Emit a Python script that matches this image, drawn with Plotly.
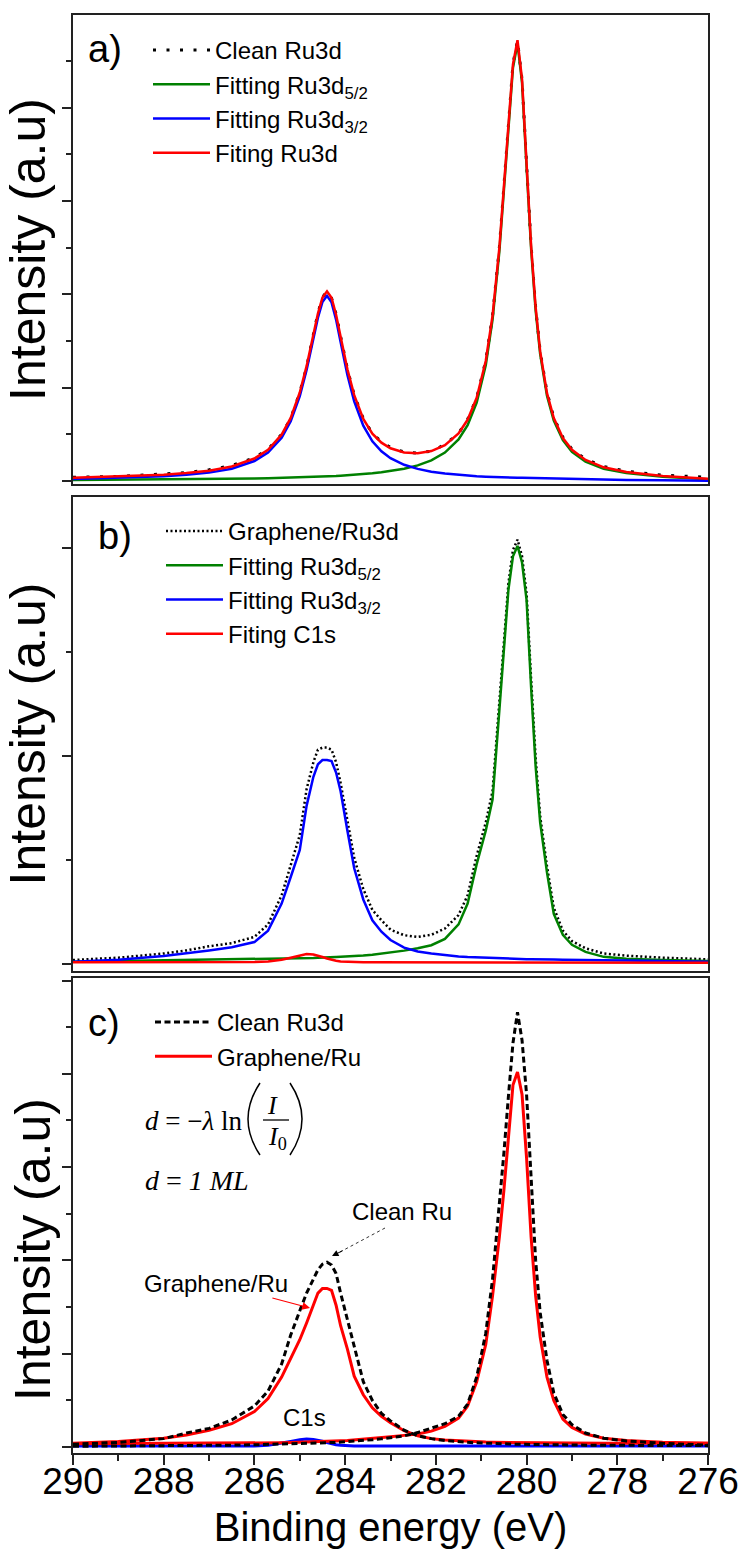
import plotly.graph_objects as go

# ---------------- data ----------------
energy = [290.0, 289.0, 288.0, 287.5, 287.0, 286.5, 286.0, 285.7, 285.4, 285.2,
          285.0, 284.85, 284.7, 284.6, 284.5, 284.4, 284.3, 284.2, 284.1, 283.95,
          283.8, 283.6, 283.4, 283.2, 283.0, 282.7, 282.4, 282.1, 281.8, 281.5,
          281.3, 281.1, 280.9, 280.75, 280.6, 280.5, 280.4, 280.3, 280.2, 280.1,
          280.0, 279.9, 279.8, 279.7, 279.55, 279.4, 279.2, 279.0, 278.7, 278.3,
          277.8, 277.0, 276.0]

# panel a
a_clean = [.04, .05, .075, .09, .12, .165, .25, .34, .50, .67,
           .95, 1.22, 1.57, 1.80, 1.97, 2.03, 1.96, 1.79, 1.55, 1.20,
           .92, .67, .51, .42, .36, .31, .30, .32, .39, .51,
           .66, .89, 1.29, 1.77, 2.50, 3.14, 3.85, 4.47, 4.72, 4.30,
           3.40, 2.52, 1.86, 1.39, .95, .68, .47, .34, .235, .155,
           .105, .062, .04]
a_fit52 = [.012, .014, .017, .019, .021, .024, .027, .030, .033, .036,
           .039, .041, .043, .045, .047, .048, .050, .053, .057, .061,
           .066, .073, .082, .093, .106, .132, .168, .221, .305, .445,
           .598, .84, 1.24, 1.73, 2.46, 3.10, 3.82, 4.43, 4.69, 4.27,
           3.37, 2.49, 1.83, 1.36, .915, .649, .438, .314, .207, .132,
           .085, .045, .02]
a_fit32 = [.022, .033, .05, .066, .09, .132, .214, .305, .464, .64,
           .91, 1.19, 1.53, 1.75, 1.92, 1.985, 1.915, 1.73, 1.49, 1.137,
           .854, .593, .426, .318, .245, .174, .13, .10, .08, .066,
           .058, .052, .047, .043, .04, .038, .037, .036, .035, .034,
           .033, .032, .031, .029, .027, .025, .023, .021, .018, .015,
           .012, .008, .004]
a_fit = [.034, .047, .067, .085, .111, .156, .241, .335, .497, .676,
         .949, 1.231, 1.573, 1.795, 1.967, 2.033, 1.965, 1.783, 1.547, 1.198,
         .92, .666, .508, .411, .351, .306, .298, .321, .385, .511,
         .656, .892, 1.287, 1.773, 2.50, 3.138, 3.857, 4.466, 4.725, 4.304,
         3.403, 2.522, 1.861, 1.389, .942, .674, .461, .335, .225, .147,
         .097, .053, .024]

# panel b
b_data = [.019, .03, .05, .065, .085, .10, .13, .19, .33, .47,
          .62, .84, .97, 1.03, 1.04, 1.04, 1.03, .97, .87, .69,
          .51, .36, .26, .21, .165, .138, .13, .14, .17, .235,
          .33, .52, .68, .83, 1.26, 1.56, 1.83, 1.99, 2.04, 1.96,
          1.78, 1.37, .99, .71, .47, .27, .16, .11, .075, .05,
          .04, .03, .022]
b_fit52 = [.01, .013, .016, .018, .019, .021, .023, .024, .025, .026,
           .027, .028, .029, .03, .03, .031, .032, .033, .034, .035,
           .037, .04, .044, .049, .055, .064, .075, .09, .12, .19,
           .29, .48, .64, .79, 1.22, 1.52, 1.80, 1.96, 2.01, 1.93,
           1.75, 1.33, .95, .68, .44, .24, .14, .092, .058, .034,
           .025, .019, .014]
b_fit32 = [.01, .02, .038, .05, .065, .08, .105, .16, .29, .418,
           .548, .76, .90, .96, .98, .98, .975, .92, .83, .64,
           .46, .31, .21, .155, .115, .078, .06, .05, .042, .036,
           .033, .031, .029, .028, .027, .026, .025, .025, .024, .024,
           .023, .023, .022, .022, .021, .021, .02, .02, .019, .018,
           .016, .013, .01]
b_c1s = [.008, .008, .008, .008, .008, .008, .009, .012, .02, .03,
         .042, .048, .045, .04, .033, .026, .02, .015, .012, .01,
         .009, .008, .008, .008, .008, .008, .008, .008, .008, .008,
         .008, .008, .008, .008, .008, .007, .007, .007, .007, .007,
         .007, .007, .007, .007, .007, .007, .007, .006, .006, .006,
         .006, .006, .006]

# panel c
c_clean32 = [.03, .05, .09, .15, .20, .29, .44, .60, .89, 1.20,
             1.46, 1.65, 1.80, 1.90, 1.96, 1.98, 1.95, 1.86, 1.65, 1.36,
             1.06, .70, .50, .36, .28, .18, .12, .09, .07, .055,
             .05, .045, .04, .037, .035, .033, .032, .031, .03, .029,
             .028, .027, .026, .025, .024, .023, .022, .021, .02, .019,
             .018, .016, .015]
c_clean52 = [.008, .01, .013, .015, .017, .02, .024, .027, .03, .033,
             .036, .038, .04, .042, .044, .046, .048, .05, .053, .057,
             .062, .07, .078, .088, .10, .12, .155, .20, .25, .33,
             .46, .75, 1.22, 1.80, 2.60, 3.15, 3.76, 4.33, 4.66, 4.36,
             3.78, 2.82, 2.0, 1.44, .93, .58, .35, .24, .15, .095,
             .065, .04, .02]
c_gr32 = [.04, .06, .095, .13, .18, .25, .38, .52, .75, .95,
          1.15, 1.33, 1.52, 1.65, 1.70, 1.70, 1.68, 1.52, 1.30, 1.05,
          .76, .56, .42, .33, .26, .175, .12, .09, .075, .065,
          .06, .056, .053, .051, .05, .049, .048, .047, .046, .046,
          .045, .045, .044, .044, .043, .043, .042, .042, .041, .041,
          .04, .04, .04]
c_gr52 = [.035, .036, .037, .038, .039, .04, .042, .044, .046, .048,
          .05, .052, .054, .056, .058, .06, .062, .064, .067, .071,
          .076, .083, .092, .10, .11, .125, .14, .17, .22, .31,
          .44, .70, 1.10, 1.62, 2.25, 2.75, 3.35, 3.88, 4.02, 3.78,
          3.10, 2.25, 1.62, 1.18, .75, .50, .30, .21, .14, .095,
          .07, .05, .04]
c_c1s = [.01, .01, .01, .01, .01, .01, .012, .02, .04, .06,
         .078, .086, .082, .074, .062, .048, .035, .025, .018, .013,
         .011, .01, .01, .01, .01, .01, .01, .01, .01, .01,
         .01, .01, .01, .01, .01, .01, .01, .01, .01, .01,
         .01, .01, .01, .01, .01, .01, .01, .01, .01, .01,
         .01, .01, .01]

x_ticks = [290, 288, 286, 284, 282, 280, 278, 276]

# ---------------- styling helpers ----------------
W, H = 743, 1554
ML, MR, MT, MB = 73, 35, 15, 101
PW, PH = W - ML - MR, H - MT - MB
FONT = "Arial, Liberation Sans, sans-serif"
SERIF = "Times New Roman, Liberation Serif, serif"
GREEN, BLUE, RED = "#008000", "#0000FF", "#FF0000"


def px(x):
    return (x - ML) / PW


def py(y):
    return (H - MB - y) / PH


fig = go.Figure()

# panel a
fig.add_trace(go.Scatter(x=energy, y=a_clean, name="Clean Ru3d", xaxis="x", yaxis="y",
                         mode="lines", line=dict(color="black", width=3, dash="3px,10.5px"),
                         legend="legend"))
fig.add_trace(go.Scatter(x=energy, y=a_fit52, name="Fitting Ru3d<sub>5/2</sub>", xaxis="x", yaxis="y",
                         mode="lines", line=dict(color=GREEN, width=2.5), legend="legend"))
fig.add_trace(go.Scatter(x=energy, y=a_fit32, name="Fitting Ru3d<sub>3/2</sub>", xaxis="x", yaxis="y",
                         mode="lines", line=dict(color=BLUE, width=2.5), legend="legend"))
fig.add_trace(go.Scatter(x=energy, y=a_fit, name="Fiting Ru3d", xaxis="x", yaxis="y",
                         mode="lines", line=dict(color=RED, width=2.5), legend="legend"))

# panel b
fig.add_trace(go.Scatter(x=energy, y=b_data, name="Graphene/Ru3d", xaxis="x2", yaxis="y2",
                         mode="lines", line=dict(color="black", width=2.5, dash="2px,2.5px"),
                         legend="legend2"))
fig.add_trace(go.Scatter(x=energy, y=b_fit52, name="Fitting Ru3d<sub>5/2</sub>", xaxis="x2", yaxis="y2",
                         mode="lines", line=dict(color=GREEN, width=2.5), legend="legend2"))
fig.add_trace(go.Scatter(x=energy, y=b_fit32, name="Fitting Ru3d<sub>3/2</sub>", xaxis="x2", yaxis="y2",
                         mode="lines", line=dict(color=BLUE, width=2.5), legend="legend2"))
fig.add_trace(go.Scatter(x=energy, y=b_c1s, name="Fiting C1s", xaxis="x2", yaxis="y2",
                         mode="lines", line=dict(color=RED, width=2.5), legend="legend2"))

# panel c
fig.add_trace(go.Scatter(x=energy, y=c_c1s, name="C1s", xaxis="x3", yaxis="y3", showlegend=False,
                         mode="lines", line=dict(color=BLUE, width=3)))
fig.add_trace(go.Scatter(x=energy, y=c_gr32, name="Graphene/Ru", xaxis="x3", yaxis="y3",
                         legendgroup="gr", legendrank=2, legend="legend3",
                         mode="lines", line=dict(color=RED, width=3)))
fig.add_trace(go.Scatter(x=energy, y=c_gr52, name="Graphene/Ru", xaxis="x3", yaxis="y3",
                         legendgroup="gr", showlegend=False, legend="legend3",
                         mode="lines", line=dict(color=RED, width=3)))
fig.add_trace(go.Scatter(x=energy, y=c_clean32, name="Clean Ru3d", xaxis="x3", yaxis="y3",
                         legendgroup="cl", legendrank=1, legend="legend3",
                         mode="lines", line=dict(color="black", width=3, dash="6px,3.5px")))
fig.add_trace(go.Scatter(x=energy, y=c_clean52, name="Clean Ru3d", xaxis="x3", yaxis="y3",
                         legendgroup="cl", showlegend=False, legend="legend3",
                         mode="lines", line=dict(color="black", width=3, dash="6px,3.5px")))

AX = dict(showline=True, mirror=True, linecolor="#222", linewidth=2, showgrid=False, zeroline=False)

xcommon = dict(AX, range=[290, 276], autorange=False)
ycommon = dict(AX, showticklabels=False, ticks="outside", ticklen=9, tickwidth=2, tickcolor="#222",
               dtick=1, tick0=0,
               minor=dict(ticks="outside", ticklen=5, tickwidth=2, tickcolor="#222", dtick=0.5, tick0=0))
ytitle = dict(text="Intensity (a.u)", font=dict(size=50, family=FONT, color="black"), standoff=4)

legend_common = dict(xanchor="left", yanchor="top", bgcolor="rgba(0,0,0,0)", borderwidth=0,
                     font=dict(size=24, family=FONT, color="black"), tracegroupgap=0,
                     traceorder="normal", itemwidth=57)

fig.update_layout(
    width=W, height=H,
    margin=dict(l=ML, r=MR, t=MT, b=MB, autoexpand=False),
    paper_bgcolor="white", plot_bgcolor="white",
    font=dict(family=FONT, color="black"),
    xaxis=dict(xcommon, anchor="y", domain=[0, 1], showticklabels=False, ticks=""),
    yaxis=dict(ycommon, anchor="x", domain=[py(484), 1.0], range=[-0.032, 4.995], title=ytitle),
    xaxis2=dict(xcommon, anchor="y2", domain=[0, 1], showticklabels=False, ticks=""),
    yaxis2=dict(ycommon, anchor="x2", domain=[py(971), py(497)], range=[-0.034, 2.245], title=ytitle),
    xaxis3=dict(xcommon, anchor="y3", domain=[0, 1], tickmode="array", tickvals=x_ticks,
                ticks="outside", ticklen=10, tickwidth=2, tickcolor="#222",
                ticklabelstandoff=-15,
                minor=dict(ticks="outside", ticklen=6, tickwidth=2, tickcolor="#222", dtick=1, tick0=0),
                tickfont=dict(size=37, family=FONT, color="black"),
                title=dict(text="Binding energy (eV)", font=dict(size=40, family=FONT, color="black"),
                           standoff=12)),
    yaxis3=dict(ycommon, anchor="x3", domain=[0, py(978)], range=[-0.064, 5.027]),
    legend=dict(legend_common, x=px(148), y=py(28)),
    legend2=dict(legend_common, x=px(161), y=py(509)),
    legend3=dict(legend_common, x=px(150), y=py(1000), traceorder="normal"),
    showlegend=True,
)

ann = []
# panel labels
for txt, xl, yc in [("a)", 86, 49), ("b)", 96, 536), ("c)", 86, 1023)]:
    ann.append(dict(text=txt, x=px(xl), y=py(yc), xref="paper", yref="paper", xanchor="left",
                    yanchor="middle", showarrow=False, font=dict(size=38, family=FONT, color="black")))

# y title of panel c (sits lower than the panel centre in the reference)
ann.append(dict(text="Intensity (a.u)", x=px(33), y=py(1250), xref="paper", yref="paper",
                xanchor="center", yanchor="middle", textangle=-90, showarrow=False,
                font=dict(size=50, family=FONT, color="black")))

# formula
ann.append(dict(text="<i>d</i> = \u2212<i>\u03bb</i> ln", x=px(143), y=py(1121), xref="paper", yref="paper",
                xanchor="left", yanchor="middle", showarrow=False, font=dict(size=27, family=SERIF, color="black")))
ann.append(dict(text="<i>I</i>", x=px(272), y=py(1105), xref="paper", yref="paper",
                xanchor="center", yanchor="middle", showarrow=False, font=dict(size=26, family=SERIF, color="black")))
ann.append(dict(text="<i>I</i><sub>0</sub>", x=px(266), y=py(1138), xref="paper", yref="paper",
                xanchor="left", yanchor="middle", showarrow=False, font=dict(size=26, family=SERIF, color="black")))
ann.append(dict(text="<i>d</i> = <i>1 ML</i>", x=px(143), y=py(1180), xref="paper", yref="paper",
                xanchor="left", yanchor="middle", showarrow=False, font=dict(size=28, family=SERIF, color="black")))

# callouts
ann.append(dict(text="Clean Ru", x=px(402), y=py(1211), xref="paper", yref="paper",
                xanchor="center", yanchor="middle", showarrow=False, font=dict(size=24, family=FONT, color="black")))
ann.append(dict(text="", x=px(332), y=py(1256), xref="paper", yref="paper", showarrow=True,
                ax=12, ay=-6, arrowhead=2, arrowsize=1.3, arrowwidth=1, arrowcolor="black"))
ann.append(dict(text="Graphene/Ru", x=px(310), y=py(1308), xref="paper", yref="paper",
                showarrow=True, ax=-94, ay=-25, arrowhead=2, arrowsize=1.3, arrowwidth=1.2, arrowcolor=RED,
                font=dict(size=24, family=FONT, color="black")))
ann.append(dict(text="C1s", x=px(304), y=py(1417), xref="paper", yref="paper",
                xanchor="center", yanchor="middle", showarrow=False, font=dict(size=24, family=FONT, color="black")))

shapes = []
# fraction bar and parentheses
shapes.append(dict(type="line", xref="paper", yref="paper", x0=px(263), x1=px(289), y0=py(1120), y1=py(1120),
                   line=dict(color="black", width=1.3)))
shapes.append(dict(type="path", xref="paper", yref="paper",
                   path=f"M {px(260)},{py(1083)} Q {px(236)},{py(1119)} {px(260)},{py(1155)}",
                   line=dict(color="black", width=1.5)))
shapes.append(dict(type="path", xref="paper", yref="paper",
                   path=f"M {px(290)},{py(1083)} Q {px(314)},{py(1119)} {px(290)},{py(1155)}",
                   line=dict(color="black", width=1.5)))
# dotted leader for "Clean Ru"
shapes.append(dict(type="line", xref="paper", yref="paper", x0=px(385), y0=py(1228), x1=px(340), y1=py(1252),
                   line=dict(color="#333", width=1, dash="dot")))

fig.update_layout(annotations=ann, shapes=shapes)

fig.write_html("out.html", config={"displayModeBar": False},
               post_script="document.body.style.margin='0px';")
